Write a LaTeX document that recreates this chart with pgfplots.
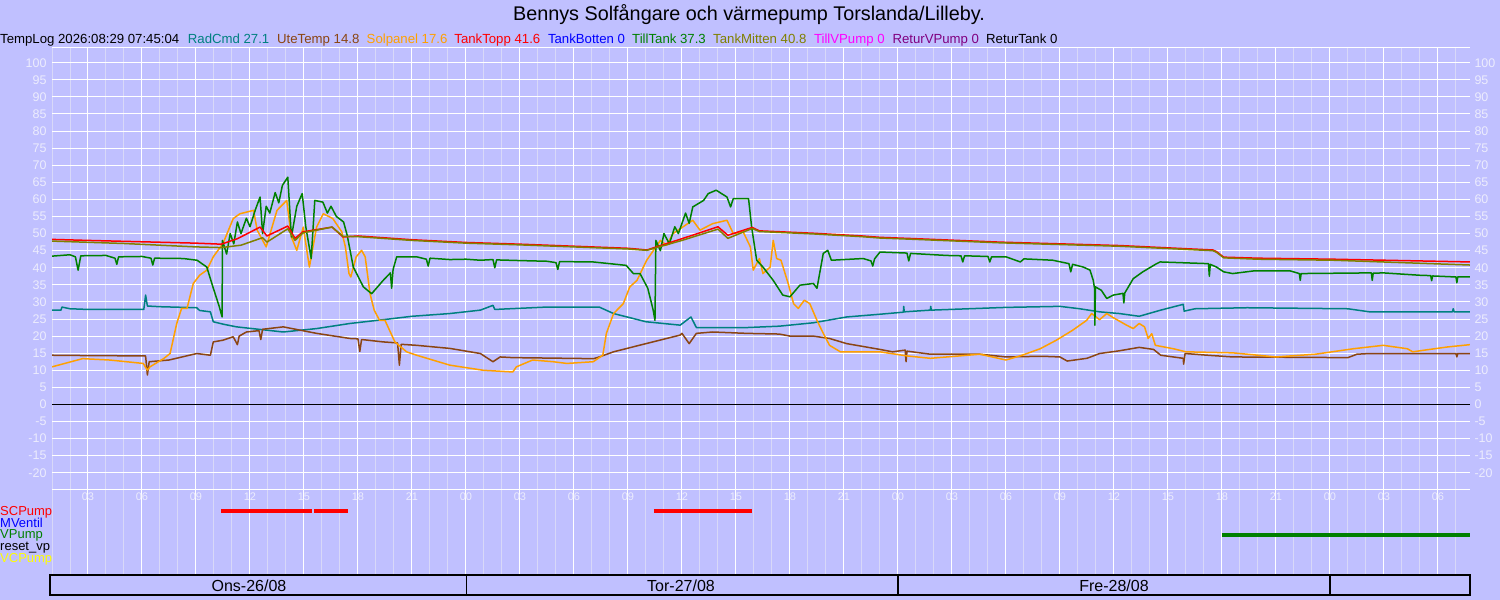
\documentclass[border=0pt]{standalone}
\usepackage{pgfplots}
\pgfplotsset{compat=1.18}
\usepackage{fontspec}
\setmainfont{Liberation Sans}
\definecolor{bg}{RGB}{192,192,255}
\definecolor{gridl}{RGB}{216,216,248}
\definecolor{tickc}{RGB}{236,236,253}
\definecolor{radc}{RGB}{0,128,128}
\definecolor{utec}{RGB}{139,69,19}
\definecolor{solc}{RGB}{255,160,0}
\definecolor{topc}{RGB}{255,0,0}
\definecolor{botc}{RGB}{0,0,255}
\definecolor{tillc}{RGB}{0,128,0}
\definecolor{mitc}{RGB}{128,128,0}
\definecolor{tvpc}{RGB}{255,0,255}
\definecolor{rvpc}{RGB}{128,0,128}
\definecolor{vcc}{RGB}{255,255,0}
\newcommand{\lf}{\fontsize{13.2bp}{15bp}\selectfont}
\begin{document}
\begin{tikzpicture}[x=1bp,y=1bp]
\fill[bg] (0,0) rectangle (1500,600);
\useasboundingbox (0,0) rectangle (1500,600);
\begin{axis}[
 at={(52bp,25bp)}, anchor=south west,
 scale only axis, width=1418bp, height=527.3bp,
 xmin=1, xmax=79.78, ymin=-49.91, ymax=104.4,
 axis line style={draw=none},
 tick style={draw=none},
 /pgf/number format/assume math mode=true,
 xtick={3,6,...,78},
 xticklabels={03,06,09,12,15,18,21,00,03,06,09,12,15,18,21,00,03,06,09,12,15,18,21,00,03,06},
 minor xtick={1,2,...,79},
 xmajorgrids, xminorgrids,
 major x grid style={white, line width=1bp},
 minor x grid style={gridl, line width=1bp},
 ytick={-20,-10,...,100},
 ymajorgrids,
 major y grid style={white,line width=1bp},
 extra y ticks={-25,-15,-5,5,15,25,35,45,55,65,75,85,95,104.4},
 extra y tick labels={{},-15,-5,5,15,25,35,45,55,65,75,85,95,{}},
 extra y tick style={grid=major, major grid style={gridl,line width=1bp}},
 xticklabel style={font=\fontsize{11bp}{11bp}\selectfont, text=tickc, anchor=center, yshift=78bp},
 yticklabel style={font=\fontsize{12.5bp}{12.5bp}\selectfont, text=tickc, anchor=east, xshift=-2bp},
 every axis plot/.append style={line width=1.5bp, line join=round},
]
% ReturTank / others at 0
\addplot[black, line width=1bp] coordinates {(1,0) (79.78,0)};
% RadCmd
\addplot[radc] coordinates {(1,27.6) (1.5,27.6) (1.55,28.5) (2,28) (3,27.8) (6.1,27.8) (6.2,32) (6.3,28.8) (7,28.6) (9.04,28.3) (9.2,27.5) (9.8,27.1) (9.96,24.2) (10.5,23.5) (11.26,22.7) (13.85,21.2) (15.7,22.2) (17.56,23.7) (19.4,24.8) (21,25.8) (23.1,26.6) (24.8,27.6) (25.5,29) (25.6,27.8) (28.5,28.5) (31.4,28.5) (32.2,26.6) (34,24.2) (35.9,23.2) (36.5,25.6) (36.8,22.5) (39.6,22.5) (41.4,22.9) (43.3,23.9) (45.15,25.6) (47,26.4) (48.3,27) (48.32,28.7) (48.35,27.1) (49.8,27.6) (49.82,28.7) (49.85,27.6) (54,28.4) (57,28.7) (58.1,28) (59.2,27.1) (60.3,26.6) (61.4,25.8) (62.6,27.6) (63.85,29.3) (63.9,27.3) (64.5,28) (67.4,28.3) (73,28) (74.2,27.1) (78.8,27.1) (78.85,28) (78.9,27.1) (79.78,27.1)};
% UteTemp
\addplot[utec] coordinates {(1,14.4) (3,14.3) (6.2,14.2) (6.3,8.6) (6.4,12.5) (7.5,13) (9.04,14.9) (9.8,14.4) (9.96,18.3) (10.5,18.8) (11.07,19.8) (11.3,17.5) (11.4,20) (11.8,21.2) (12.5,21.6) (12.6,19) (12.7,22) (13.85,22.7) (15.7,20.8) (17.56,19.3) (18,19.2) (18.1,15.5) (18.2,19) (19.4,18.3) (20.2,18) (20.3,11.5) (20.4,17.6) (21.26,17.3) (23.1,16.4) (24.8,14.9) (25.5,12.5) (25.9,13.9) (26.6,13.7) (31.1,13.4) (31.4,13.9) (32.2,15.4) (34,17.8) (35.9,20.3) (36,20.8) (36.4,17.8) (36.8,20.8) (37.7,21.2) (39.6,20.8) (41.4,20.6) (42,20) (43.3,20) (44.2,19.3) (45.15,17.8) (47,16.1) (47.7,15.4) (48.4,15.9) (48.45,12.5) (48.5,15.6) (49.8,14.7) (52.56,14.7) (54,13.9) (56,14.1) (57,13.9) (57.4,12.7) (58.5,13.5) (59.2,14.9) (60.3,15.7) (61.4,16.7) (62.2,16.1) (62.6,14.4) (63.85,13.5) (63.87,11.8) (63.95,14.9) (65.2,14.4) (66.6,13.9) (73,13.7) (73.5,14.7) (74.2,14.9) (79,14.9) (79.05,13.9) (79.1,14.9) (79.78,14.9)};
% Solpanel
\addplot[solc] coordinates {(1,11) (2.7,13.4) (4.2,13) (6.07,12) (6.3,10) (6.44,11) (7.2,13.4) (7.56,14.9) (7.93,23.7) (8.2,28.1) (8.5,28.1) (8.85,35.4) (9.2,37.8) (9.6,39.3) (9.96,43.2) (10.5,47.1) (11.07,54.4) (11.44,55.8) (12.2,56.8) (12.4,51) (12.9,46.1) (13.5,56.8) (14.04,59.7) (14.3,49) (14.6,45.1) (14.96,51.9) (15.3,40.2) (15.7,51.9) (16.07,55.8) (16.6,54.4) (17.1,50.5) (17.3,46.1) (17.5,38.3) (17.6,37.3) (17.9,43.2) (18.2,45.1) (18.4,43.2) (18.67,32.4) (18.9,27.6) (19.2,24.6) (19.5,24.6) (20.05,18.3) (20.7,15.4) (21.26,14.4) (23.1,11.5) (24.96,10) (26.6,9.5) (26.8,11) (27.7,13) (28.85,12.5) (29.6,12) (31.07,12.5) (31.6,14.4) (31.8,20.8) (32.2,26.6) (32.74,29.5) (33.1,34.4) (33.5,36.3) (34.04,42.2) (34.8,48) (35.15,46.6) (35.5,50) (36.6,53.9) (37,51) (37.7,52.9) (38.5,53.9) (38.85,50) (39.4,50.5) (39.8,46.1) (39.96,39.3) (40.3,42.7) (40.5,38.3) (40.9,40.2) (41.07,48) (41.26,42.7) (41.5,42.2) (41.9,35.4) (42.2,29.5) (42.46,28.1) (42.8,30.5) (43.1,29.5) (43.5,24.6) (43.85,20.8) (44.2,17.3) (44.8,15.4) (47,15.4) (48.5,14.2) (49.8,13.5) (52.56,14.7) (54,13) (54.9,14.4) (55.9,16.3) (56.8,18.8) (57.7,21.7) (58.48,24.6) (58.76,26.6) (59.2,24.8) (59.6,26.6) (59.96,25.4) (60.7,23.2) (61.07,22.2) (61.4,23.7) (61.7,22.7) (61.9,19.3) (62.1,20.7) (62.3,17.3) (63.3,16.3) (64,15.4) (66.6,15.1) (69,13.9) (71.2,14.7) (73.3,16.3) (74.96,17.3) (76.3,16.3) (76.6,15.4) (77.4,16) (78.5,16.8) (79.78,17.5)};
% TillTank
\addplot[tillc] coordinates {(1,43.4) (2,43.8) (2.3,43.2) (2.45,39.3) (2.6,43.5) (4,43.6) (4.5,42.8) (4.6,41) (4.7,43.2) (6,43.3) (6.5,42.8) (6.6,40.8) (6.7,42.8) (8.3,42.7) (9.06,42.2) (9.6,40.2) (9.94,34.4) (10.3,28.5) (10.45,25.6) (10.47,48) (10.7,44) (10.9,50) (11.1,47) (11.3,53.4) (11.5,50) (11.8,54.5) (12,52) (12.3,57) (12.56,60.7) (12.7,50) (12.9,58) (13.1,56) (13.4,62) (13.6,59) (13.8,64.1) (14.1,66.5) (14.3,49) (14.6,58) (14.9,61.7) (15.1,52) (15.4,42.7) (15.6,59.7) (16.05,59.2) (16.3,56) (16.5,58) (16.8,55) (17.2,53.4) (17.4,49.5) (17.74,40.2) (18.3,34.4) (18.76,32.4) (19.4,36.3) (19.8,38.5) (19.87,34) (19.95,39.5) (20.15,43.2) (21.26,43.2) (21.8,42.5) (21.9,40.5) (22,42.8) (23.1,42.4) (24,42.5) (24.8,42.2) (25.5,42.4) (25.6,40) (25.7,42.3) (27,42.1) (28.5,41.9) (29,41.5) (29.1,39.5) (29.2,41.8) (31.06,41.7) (32.9,40.7) (33.3,38.3) (33.67,38.3) (34.1,34) (34.4,27.6) (34.5,24.6) (34.55,48) (34.8,45) (35,50) (35.3,47) (35.6,52) (35.8,50) (36.2,56) (36.4,53) (36.6,57.8) (37.2,59.7) (37.46,61.7) (37.9,62.7) (38.5,60.7) (38.7,57.8) (38.85,60.2) (39.7,60.2) (39.87,51.9) (40.15,42.2) (40.5,40.2) (41.07,36.3) (41.6,32) (42,31.5) (42.55,34.9) (43.3,35.4) (43.5,34) (43.85,44.2) (44.1,45.1) (44.3,42.2) (46.07,42.7) (46.5,42) (46.6,40.5) (46.7,42.6) (47,44.6) (48,44.4) (48.5,44.3) (48.6,42) (48.7,44.2) (50.7,43.6) (51.5,43.5) (51.6,41.7) (51.7,43.5) (53,43.3) (53.1,41.7) (53.2,43.2) (54,43.2) (54.8,41.7) (55,42.6) (56.6,42.2) (57.5,41.2) (57.6,38.8) (57.7,41) (58.3,40.2) (58.67,39.3) (58.85,36.3) (58.92,34) (58.94,23.2) (58.97,34.4) (59.3,33.4) (59.6,31) (59.96,32) (60.5,32.5) (60.55,29.7) (60.6,32.6) (61.07,36.8) (61.6,38.8) (62.37,41.2) (62.56,41.7) (65.25,41.2) (65.3,37.5) (65.35,41) (65.7,40.2) (66.1,38.8) (66.6,38.3) (67.8,39.1) (69.78,39.1) (70.3,38.3) (70.35,36.3) (70.4,38.3) (74.3,38.5) (74.35,36.3) (74.4,38.4) (74.96,38.5) (77,37.8) (77.6,37.7) (77.65,36.2) (77.7,37.6) (79,37.3) (79.05,35.6) (79.1,37.3) (79.78,37.3)};
% TankTopp
\addplot[topc] coordinates {(1,48.3) (3,48.0) (6,47.6) (9,47.2) (10.4,46.9) (11.3,48.5) (12.56,51.9) (12.94,49.3) (14.1,52.2) (14.5,48.6) (14.94,50.5) (16.56,51.9) (17.17,49) (18,49.3) (21,48.2) (24,47.4) (27,46.9) (30,46.3) (33,45.7) (34.05,45.2) (36,48.5) (38,52) (38.55,49.5) (39.9,51.8) (40.3,50.8) (43.3,50.1) (46,49.3) (47,48.9) (49,48.5) (53.67,47.5) (60.3,46.5) (65.5,45.2) (65.7,44.7) (66.1,43.1) (68,42.8) (72.2,42.5) (76,42.1) (79.78,41.7)};
% TankMitten
\addplot[mitc] coordinates {(1,47.8) (5,47.1) (9,46.1) (10.4,45.9) (11.5,46.6) (12.7,48.8) (12.94,47.5) (14.1,51.4) (14.5,48) (14.94,50.2) (16.56,51.9) (17.17,49.2) (18,49.1) (21,48) (24,47.2) (27,46.7) (30,46.1) (33,45.5) (34.05,45.1) (36,48) (38,51.3) (38.55,48.6) (39.9,51.5) (40.3,50.6) (43.3,49.9) (46,49.1) (47,48.7) (49,48.3) (53.67,47.3) (60.3,46.3) (65.5,45) (65.7,44.5) (66.1,42.9) (68,42.5) (72.2,42.2) (76,41.5) (79.78,40.8)};
% pumps
\addplot[topc, line width=4bp, line cap=butt] coordinates {(10.39,-31.1) (15.43,-31.1)};
\addplot[topc, line width=4bp, line cap=butt] coordinates {(15.56,-31.1) (17.43,-31.1)};
\addplot[topc, line width=4bp, line cap=butt] coordinates {(34.44,-31.1) (39.9,-31.1)};
\addplot[tillc, line width=4bp, line cap=butt] coordinates {(66.0,-38.2) (79.78,-38.2)};
\end{axis}
\begin{axis}[
 at={(52bp,25bp)}, anchor=south west,
 scale only axis, width=1418bp, height=527.3bp,
 xmin=1, xmax=79.78, ymin=-49.91, ymax=104.4,
 hide x axis, axis line style={draw=none}, tick style={draw=none},
 /pgf/number format/assume math mode=true,
 ytick={-20,-15,...,100}, yticklabel pos=right,
 yticklabel style={font=\fontsize{12.5bp}{12.5bp}\selectfont, text=tickc, anchor=west, xshift=1bp},
]
\addplot[draw=none] coordinates {(1,0) (2,0)};
\end{axis}
% title and legend
\node[anchor=base, inner sep=0, font=\fontsize{19.8bp}{22bp}\selectfont] at (749,579.7) {Bennys Solfångare och värmepump Torslanda/Lilleby.};
\node[anchor=base west, inner sep=0, font=\lf] at (0,556) {TempLog 2026:08:29 07:45:04};
\node[anchor=base west, inner sep=0, font=\lf, text=radc] at (187.7,556) {RadCmd 27.1};
\node[anchor=base west, inner sep=0, font=\lf, text=utec] at (277,556) {UteTemp 14.8};
\node[anchor=base west, inner sep=0, font=\lf, text=solc] at (366.5,556) {Solpanel 17.6};
\node[anchor=base west, inner sep=0, font=\lf, text=topc] at (454.2,556) {TankTopp 41.6};
\node[anchor=base west, inner sep=0, font=\lf, text=botc] at (547.8,556) {TankBotten 0};
\node[anchor=base west, inner sep=0, font=\lf, text=tillc] at (632,556) {TillTank 37.3};
\node[anchor=base west, inner sep=0, font=\lf, text=mitc] at (713,556) {TankMitten 40.8};
\node[anchor=base west, inner sep=0, font=\lf, text=tvpc] at (813.8,556) {TillVPump 0};
\node[anchor=base west, inner sep=0, font=\lf, text=rvpc] at (892.3,556) {ReturVPump 0};
\node[anchor=base west, inner sep=0, font=\lf, text=black] at (986,556) {ReturTank 0};
% pump labels
\node[anchor=base west, inner sep=0, font=\fontsize{13bp}{13bp}\selectfont, text=topc] at (0,84.5) {SCPump};
\node[anchor=base west, inner sep=0, font=\fontsize{13bp}{13bp}\selectfont, text=botc] at (0,72.8) {MVentil};
\node[anchor=base west, inner sep=0, font=\fontsize{13bp}{13bp}\selectfont, text=tillc] at (0,61.2) {VPump};
\node[anchor=base west, inner sep=0, font=\fontsize{13bp}{13bp}\selectfont, text=black] at (0,49.8) {reset\_vp};
\node[anchor=base west, inner sep=0, font=\fontsize{13bp}{13bp}\selectfont, text=vcc] at (0,37.2) {VCPump};
% date band
\draw[black, line width=1.5bp] (50,5) rectangle (1470,25);
\draw[black, line width=1.5bp] (466.7,5) -- (466.7,25) (898,5) -- (898,25) (1330,5) -- (1330,25);
\node[font=\fontsize{16bp}{16bp}\selectfont, inner sep=0] at (249,14.5) {Ons-26/08};
\node[font=\fontsize{16bp}{16bp}\selectfont, inner sep=0] at (681,14.5) {Tor-27/08};
\node[font=\fontsize{16bp}{16bp}\selectfont, inner sep=0] at (1114,14.5) {Fre-28/08};
\end{tikzpicture}
\end{document}
